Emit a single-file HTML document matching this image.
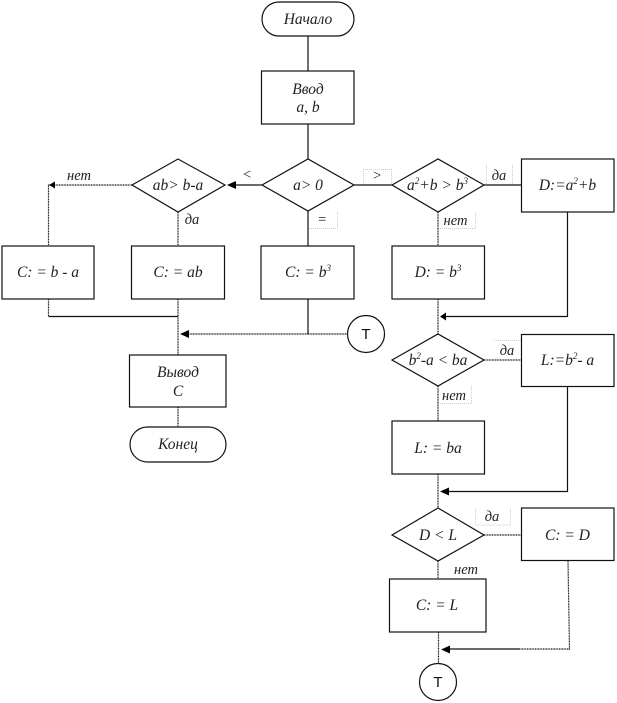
<!DOCTYPE html>
<html><head><meta charset="utf-8">
<style>html,body{margin:0;padding:0;background:#fff}svg{display:block}
text{font-family:"Liberation Serif",serif;font-style:italic;font-size:15.500px;fill:#222;text-anchor:middle}
.s{font-size:9px}
.t{font-family:"Liberation Sans",sans-serif;font-style:normal;font-size:15px;fill:#111}
.l{font-size:14.500px}
</style></head><body>
<svg width="617" height="703" viewBox="0 0 617 703" xmlns="http://www.w3.org/2000/svg">
<!-- label boxes -->
<g fill="none" stroke="#ccc" stroke-width="1" stroke-dasharray="1 1">
<path d="M363.500 184V169.500H391.500V184"/>
<path d="M309 228.500H337.500V212"/>
<path d="M486.500 184V165M512.500 184V165"/>
<path d="M438 228.500H475.500V212"/>
<path d="M494 340.500H521"/>
<path d="M438 403.500H471.500V386"/>
<path d="M475.500 509V525H510.500V509"/>
</g>
<!-- solid connectors -->
<g fill="none" stroke="#111" stroke-width="1.200">
<path d="M308 36V71M308 124V159M308 211V246"/>
<path d="M262 185H229"/>
<path d="M48.500 316.500H178"/>
<path d="M308 299V334"/>
<path d="M354 185H392M484 185H521.500"/>
<path d="M567.500 212V316.500H444"/>
<path d="M567.500 386V491.500H444"/>
<path d="M444 649H520"/>
</g>
<!-- dotted-looking connectors -->
<g fill="none" stroke="#111" stroke-width="1.200" stroke-dasharray="1 0.600">
<path d="M132 185H48.500V246"/>
<path d="M178 212V246"/>
<path d="M48.500 299V316.500"/>
<path d="M178 299V355"/>
<path d="M347.500 334H186"/>
<path d="M438 212V246M438 299V334"/>
<path d="M484 360H521M438 386V421M438 474V508"/>
<path d="M484 535H521M438 561V579"/>
<path d="M438.500 632V663.500"/>
<path d="M568 561L569.500 649H520"/>
<path d="M178 407V427"/>
</g>
<!-- arrowheads -->
<g fill="#000">
<path d="M227 185L236 181V189Z"/>
<path d="M49 185L55 181.500V188.500Z"/>
<path d="M180 334L189 330V338Z"/>
<path d="M440 316.500L446 312.500V320.500Z"/>
<path d="M440 491.500L449 487.500V495.500Z"/>
<path d="M441 649.500L450 645.500V653.500Z"/>
</g>
<!-- shapes -->
<g fill="#fff" stroke="#111" stroke-width="1.200">
<rect x="262" y="2" width="92" height="34" rx="17"/>
<rect x="261.500" y="71" width="92.500" height="53"/>
<path d="M262 185L308 159L354 185L308 211Z"/>
<path d="M132 185L178 159L225 185L178 212Z"/>
<path d="M392 185L438 159L484 185L438 212Z"/>
<rect x="521.500" y="159" width="92.500" height="53"/>
<rect x="2" y="246" width="92" height="53"/>
<rect x="131.500" y="246" width="93" height="53"/>
<rect x="261" y="246" width="93" height="53"/>
<rect x="392" y="246" width="92.500" height="53"/>
<circle cx="366" cy="334" r="18.500"/>
<path d="M392 360L438 334L484 360L438 386Z"/>
<rect x="521.500" y="334.500" width="92.500" height="52"/>
<rect x="129.500" y="355" width="96.500" height="52"/>
<rect x="130" y="427" width="96" height="35" rx="17.500"/>
<rect x="392" y="421" width="92.500" height="53"/>
<path d="M392 535L438 508L484 535L438 561Z"/>
<rect x="521.500" y="508" width="92.500" height="52.500"/>
<rect x="389.500" y="579" width="96.500" height="53"/>
<circle cx="438" cy="682" r="18.500"/>
</g>
<!-- node text -->
<text x="308" y="24">Начало</text>
<text x="308" y="94">Ввод</text>
<text x="308" y="112">a, b</text>
<text x="308" y="190">a&gt; 0</text>
<text x="178" y="190">ab&gt; b-a</text>
<text x="437.500" y="190">a<tspan class="s" dy="-6">2</tspan><tspan dy="6">+b &gt; b</tspan><tspan class="s" dy="-6">3</tspan></text>
<text x="567.500" y="190">D:=a<tspan class="s" dy="-6">2</tspan><tspan dy="6">+b</tspan></text>
<text x="48" y="277">C: = b - a</text>
<text x="178" y="277">C: = ab</text>
<text x="308" y="277">C: = b<tspan class="s" dy="-6">3</tspan></text>
<text x="438" y="277">D: = b<tspan class="s" dy="-6">3</tspan></text>
<text class="t" x="366" y="339">T</text>
<text x="438" y="365">b<tspan class="s" dy="-6">2</tspan><tspan dy="6">-a &lt; ba</tspan></text>
<text x="567.500" y="365">L:=b<tspan class="s" dy="-6">2</tspan><tspan dy="6">- a</tspan></text>
<text x="178" y="377">Вывод</text>
<text x="178" y="396">C</text>
<text x="178" y="449">Конец</text>
<text x="438" y="453">L: = ba</text>
<text x="438" y="540">D &lt; L</text>
<text x="567.500" y="540">C: = D</text>
<text x="437" y="610">C: = L</text>
<text class="t" x="438" y="687">T</text>
<!-- connector labels -->
<text class="l" x="79" y="180">нет</text>
<text class="l" x="192" y="224">да</text>
<text class="l" x="247" y="179">&lt;</text>
<text class="l" x="377" y="180">&gt;</text>
<text class="l" x="322" y="224">=</text>
<text class="l" x="499" y="180">да</text>
<text class="l" x="455.500" y="225">нет</text>
<text class="l" x="507" y="355">да</text>
<text class="l" x="454" y="400">нет</text>
<text class="l" x="492" y="521">да</text>
<text class="l" x="466" y="574">нет</text>
</svg>
</body></html>
